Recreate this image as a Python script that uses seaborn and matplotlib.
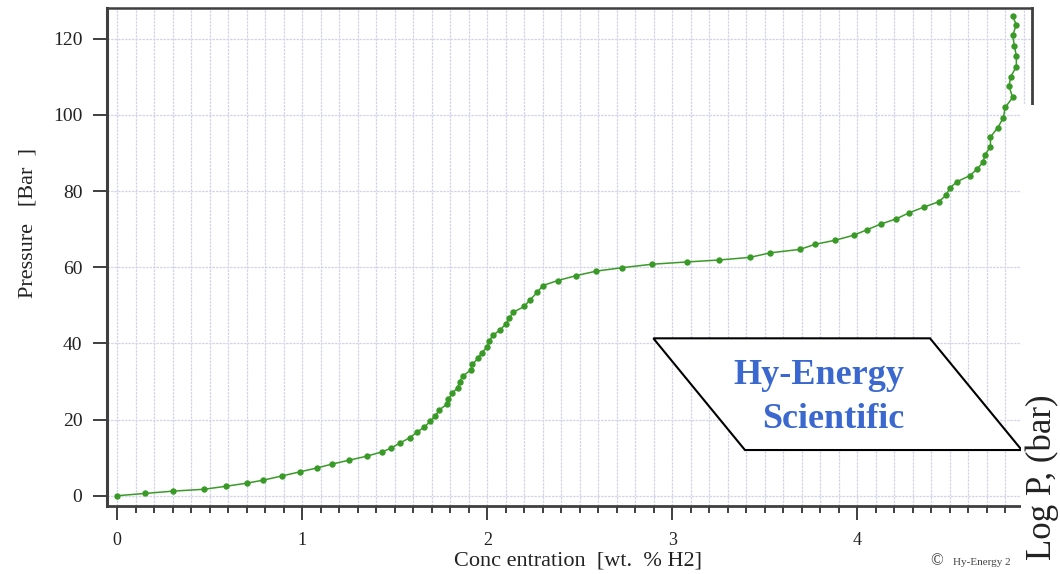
import numpy as np
import pandas as pd
import seaborn as sns
import matplotlib
matplotlib.use("Agg")
import matplotlib.pyplot as plt
from matplotlib.patches import Polygon, Rectangle
from matplotlib.ticker import MultipleLocator

# Hydrogen absorption isotherm: concentration (wt.% H2) vs pressure (bar)
conc = [0.00, 0.15, 0.30, 0.47, 0.59, 0.70, 0.79, 0.89, 0.99, 1.08,
        1.16, 1.25, 1.35, 1.43, 1.48, 1.53, 1.58, 1.62, 1.66, 1.69,
        1.72, 1.74, 1.78, 1.79, 1.81, 1.84, 1.85, 1.87, 1.91, 1.92,
        1.95, 1.97, 2.00, 2.01, 2.03, 2.07, 2.10, 2.12, 2.14, 2.20,
        2.23, 2.27, 2.30, 2.38, 2.48, 2.59, 2.73, 2.89, 3.08, 3.25,
        3.42, 3.53, 3.69, 3.77, 3.88, 3.98, 4.05, 4.13, 4.21, 4.28,
        4.36, 4.44, 4.48, 4.50, 4.54, 4.61, 4.65, 4.68, 4.69, 4.72,
        4.72, 4.76, 4.79, 4.80, 4.84, 4.82, 4.83, 4.86, 4.86, 4.85,
        4.84, 4.86, 4.84]
pressure = [0.0, 0.6, 1.2, 1.7, 2.5, 3.3, 4.1, 5.2, 6.3, 7.3,
            8.3, 9.3, 10.4, 11.5, 12.5, 13.9, 15.2, 16.7, 18.0, 19.5,
            21.0, 22.5, 24.0, 25.3, 26.9, 28.4, 30.0, 31.5, 33.0, 34.5,
            36.1, 37.6, 39.0, 40.6, 42.1, 43.6, 45.1, 46.7, 48.2, 49.7,
            51.4, 53.4, 55.2, 56.5, 57.8, 59.0, 59.9, 60.8, 61.4, 61.9,
            62.6, 63.8, 64.7, 66.0, 67.1, 68.4, 69.8, 71.4, 72.7, 74.3,
            75.8, 77.2, 78.9, 80.8, 82.5, 84.1, 85.9, 87.6, 89.5, 91.7,
            94.2, 96.7, 99.3, 102.0, 104.6, 107.6, 110.1, 112.7, 115.4, 118.1,
            120.9, 123.7, 125.9]

x_ticks = [0, 1, 2, 3, 4]
y_ticks = [0, 20, 40, 60, 80, 100, 120]

x_label = "Conc entration  [wt.  % H2]"
y_label = "Pressure   [Bar  ]"
logo_lines = ["Hy-Energy", "Scientific"]
copyright_text = "Hy-Energy 2"
side_label = "Log P, (bar)"

sns.set_theme(style="white")
serif = ["Liberation Serif", "DejaVu Serif"]
plt.rcParams["font.family"] = serif

GREEN = "#3a9a28"
SPINE = "#3f3f3f"
GRID = "#d4d4ec"

fig = plt.figure(figsize=(10.6, 5.74), dpi=100)
fig.patch.set_facecolor("white")
ax = fig.add_axes([107.3 / 1060, 1 - 506 / 574, 924.4 / 1060, 498 / 574])
ax.set_facecolor("white")

df = pd.DataFrame({"conc": conc, "pressure": pressure})
sns.lineplot(data=df, x="conc", y="pressure", sort=False, estimator=None,
             color=GREEN, linewidth=1.1, marker="o", markersize=4.6,
             markeredgewidth=0, markerfacecolor=GREEN, ax=ax, zorder=3)

ax.set_xlim(-0.054, 4.943)
ax.set_ylim(-2.7, 128.1)

ax.set_xticks(x_ticks)
ax.set_xticklabels([str(t) for t in x_ticks])
ax.xaxis.set_minor_locator(MultipleLocator(0.1))
ax.set_yticks(y_ticks)
ax.set_yticklabels([str(t) for t in y_ticks])

ax.grid(True, which="both", axis="x", color=GRID, linewidth=0.9,
        linestyle=(0, (2, 0.8)), zorder=0)
ax.grid(True, which="major", axis="y", color=GRID, linewidth=0.9,
        linestyle=(0, (2, 0.8)), zorder=0)
ax.set_axisbelow(True)

ax.tick_params(axis="x", which="major", direction="out", length=10, width=1.4,
               color=SPINE, labelsize=13, pad=9, labelcolor="#222222",
               bottom=True)
ax.tick_params(axis="x", which="minor", direction="out", length=5, width=1.4,
               color=SPINE, bottom=True)
ax.tick_params(axis="y", which="major", direction="out", length=10, width=1.4,
               color=SPINE, labelsize=14, pad=8, labelcolor="#222222",
               left=True)

for name, lw in [("left", 2.2), ("bottom", 2.0), ("top", 1.8), ("right", 2.0)]:
    ax.spines[name].set_visible(True)
    ax.spines[name].set_color(SPINE)
    ax.spines[name].set_linewidth(lw)

ax.set_xlabel(x_label, fontsize=16, color="#222222", va="baseline")
ax.xaxis.set_label_coords(0.5087, -0.1185)
ax.set_ylabel(y_label, fontsize=16, color="#222222", va="baseline")
ax.yaxis.set_label_coords(-0.0804, 0.569)

# logo box: slanted parallelogram with two lines of text
para = Polygon([(0.5907, 0.3367), (0.890, 0.3367), (0.9892, 0.1124), (0.6898, 0.1124)],
               closed=True, transform=ax.transAxes, facecolor="white",
               edgecolor="black", linewidth=1.5, zorder=4)
ax.add_patch(para)
ax.text(0.7695, 0.245, logo_lines[0], transform=ax.transAxes, ha="center",
        va="baseline", fontsize=26, fontweight="bold", color="#3a68cf",
        family=serif, zorder=5)
ax.text(0.7855, 0.156, logo_lines[1], transform=ax.transAxes, ha="center",
        va="baseline", fontsize=26, fontweight="bold", color="#3a68cf",
        family=serif, zorder=5)

# copyright note under the plot
fig.text(930 / 1060, 1 - 565 / 574, "\u00a9", fontsize=12, color="#444444",
         ha="left", va="baseline", family=serif, zorder=4)
fig.text(953 / 1060, 1 - 565 / 574, copyright_text, fontsize=8, color="#444444",
         ha="left", va="baseline", family=serif, zorder=4)

# side panel with its axis caption
fig.add_artist(Rectangle((1020.5 / 1060, 0), 1 - 1020.5 / 1060, (574 - 105) / 574,
                         transform=fig.transFigure, facecolor="white",
                         edgecolor="none", zorder=6))
fig.text(1051 / 1060, 1 - 560 / 574, side_label, rotation=90,
         rotation_mode="anchor", ha="left", va="baseline", fontsize=25,
         color="#222222", family=serif, zorder=7)

fig.savefig("out.png", dpi=100, facecolor="white")
